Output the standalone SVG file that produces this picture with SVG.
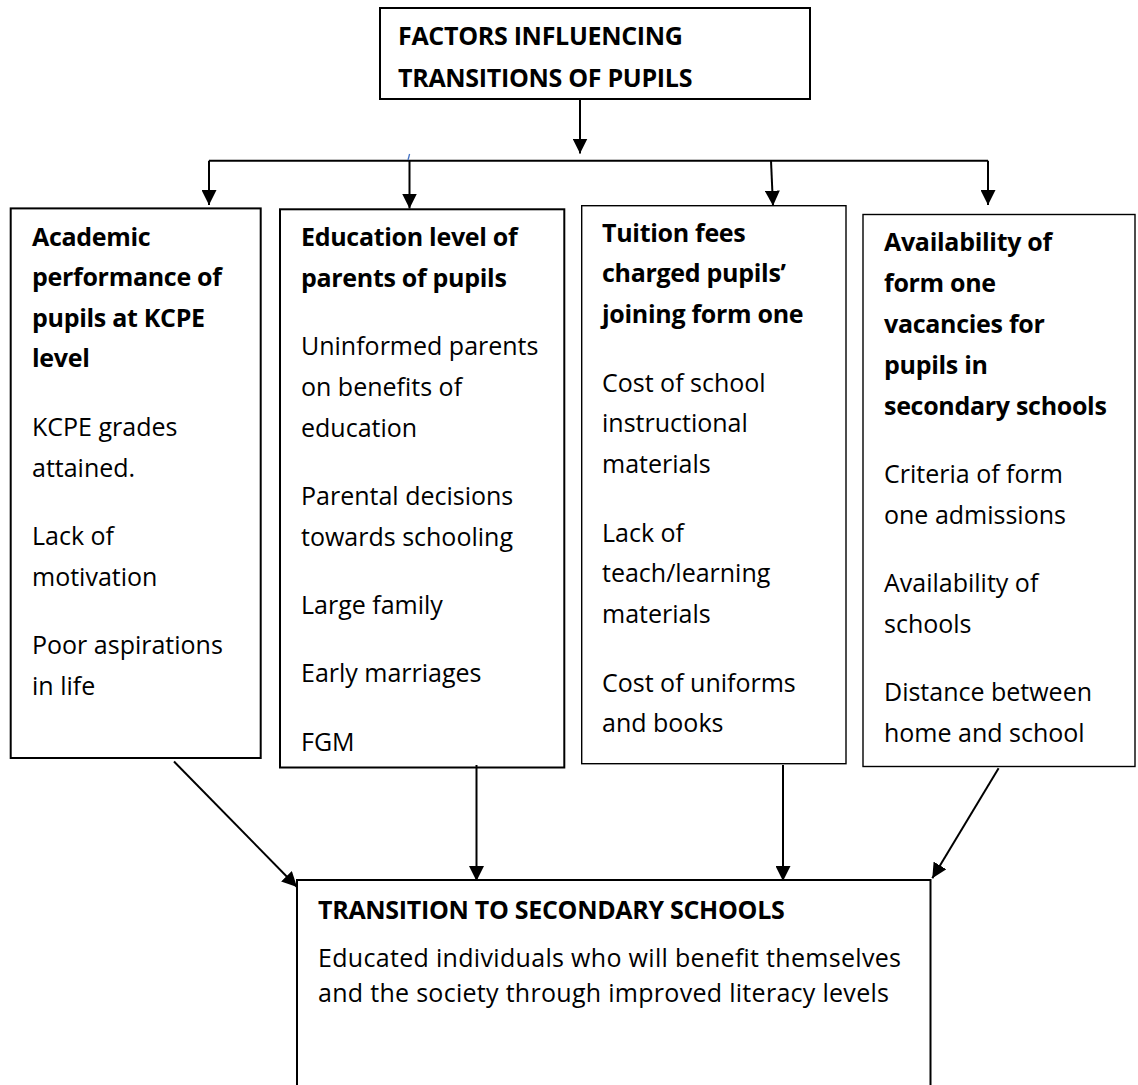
<svg xmlns="http://www.w3.org/2000/svg" width="1138" height="1085" viewBox="0 0 1138 1085">
<style>
  .box { fill: #fff; stroke: #000; stroke-width: 2; }
  .thin { stroke-width: 1.4; }
  .t { font-family: "Open Sans", "Noto Sans", sans-serif; font-size: 25px; fill: #000; }
  .b { font-weight: 700; letter-spacing: -0.3px; }
  .c { stroke: #000; stroke-width: 2; fill: none; }
  .ca { stroke: #000; stroke-width: 2; fill: none; marker-end: url(#ah); }
</style>
<defs>
  <marker id="ah" viewBox="0 0 15 15" refX="15" refY="7.5" markerWidth="15" markerHeight="15" markerUnits="userSpaceOnUse" orient="auto">
    <path d="M0,0 L15,7.5 L0,15 z" fill="#000"/>
  </marker>
</defs>
<rect width="1138" height="1085" fill="#fff"/>

<g id="top">
  <rect class="box" x="380" y="8" width="430" height="91"/>
  <text class="t b" x="398" y="45">FACTORS INFLUENCING</text>
  <text class="t b" x="398" y="87">TRANSITIONS OF PUPILS</text>
</g>

<g id="academic">
  <rect class="box" x="10.7" y="208.4" width="250" height="549.6"/>
  <text class="t b" x="32" y="245.5">Academic</text>
  <text class="t b" x="32" y="286">performance of</text>
  <text class="t b" x="32" y="326.5">pupils at KCPE</text>
  <text class="t b" x="32" y="367">level</text>
  <text class="t" x="32" y="436">KCPE grades</text>
  <text class="t" x="32" y="476.5">attained.</text>
  <text class="t" x="32" y="545">Lack of</text>
  <text class="t" x="32" y="585.5">motivation</text>
  <text class="t" x="32" y="654">Poor aspirations</text>
  <text class="t" x="32" y="694.5">in life</text>
</g>

<g id="education">
  <rect class="box" x="280" y="209.3" width="284.3" height="558.2"/>
  <text class="t b" x="301" y="246">Education level of</text>
  <text class="t b" x="301" y="287">parents of pupils</text>
  <text class="t" x="301" y="355">Uninformed parents</text>
  <text class="t" x="301" y="396">on benefits of</text>
  <text class="t" x="301" y="437">education</text>
  <text class="t" x="301" y="505">Parental decisions</text>
  <text class="t" x="301" y="546">towards schooling</text>
  <text class="t" x="301" y="614">Large family</text>
  <text class="t" x="301" y="682">Early marriages</text>
  <text class="t" x="301" y="751">FGM</text>
</g>

<g id="tuition">
  <rect class="box thin" x="581.7" y="205.7" width="264.3" height="558"/>
  <text class="t b" x="602" y="241.5">Tuition fees</text>
  <text class="t b" x="602" y="282">charged pupils’</text>
  <text class="t b" x="602" y="322.5">joining form one</text>
  <text class="t" x="602" y="391.5">Cost of school</text>
  <text class="t" x="602" y="432">instructional</text>
  <text class="t" x="602" y="472.5">materials</text>
  <text class="t" x="602" y="541.5">Lack of</text>
  <text class="t" x="602" y="582">teach/learning</text>
  <text class="t" x="602" y="622.5">materials</text>
  <text class="t" x="602" y="691.5">Cost of uniforms</text>
  <text class="t" x="602" y="732">and books</text>
</g>

<g id="availability">
  <rect class="box thin" x="863" y="214.5" width="272" height="552"/>
  <text class="t b" x="884" y="251">Availability of</text>
  <text class="t b" x="884" y="292">form one</text>
  <text class="t b" x="884" y="333">vacancies for</text>
  <text class="t b" x="884" y="374">pupils in</text>
  <text class="t b" x="884" y="415">secondary schools</text>
  <text class="t" x="884" y="483">Criteria of form</text>
  <text class="t" x="884" y="524">one admissions</text>
  <text class="t" x="884" y="592">Availability of</text>
  <text class="t" x="884" y="633">schools</text>
  <text class="t" x="884" y="701">Distance between</text>
  <text class="t" x="884" y="742">home and school</text>
</g>

<g id="transition">
  <rect class="box" x="297" y="880" width="633.5" height="220"/>
  <text class="t b" x="318" y="918.5">TRANSITION TO SECONDARY SCHOOLS</text>
  <text class="t" x="318" y="967" textLength="583" lengthAdjust="spacing">Educated individuals who will benefit themselves</text>
  <text class="t" x="318" y="1002" textLength="571" lengthAdjust="spacing">and the society through improved literacy levels</text>
</g>

<g id="connectors">
  <line class="ca" x1="580" y1="99" x2="580" y2="153.5"/>
  <line class="c" x1="209" y1="160.7" x2="988" y2="160.7"/>
  <line class="ca" x1="209" y1="160.7" x2="209" y2="205"/>
  <line class="ca" x1="409.5" y1="160.7" x2="409.5" y2="208.5"/>
  <line class="ca" x1="771" y1="160.7" x2="773" y2="205.7"/>
  <line class="ca" x1="988" y1="160.7" x2="988" y2="205"/>
  <line x1="408" y1="160" x2="409.6" y2="154" stroke="#4472C4" stroke-width="1.3"/>
  <line class="ca" x1="174" y1="761.5" x2="297" y2="887"/>
  <line class="ca" x1="476.5" y1="765" x2="476.5" y2="881"/>
  <line class="ca" x1="783" y1="765" x2="783" y2="881"/>
  <line class="ca" x1="998.6" y1="768.3" x2="932.3" y2="878.3"/>
</g>
</svg>
